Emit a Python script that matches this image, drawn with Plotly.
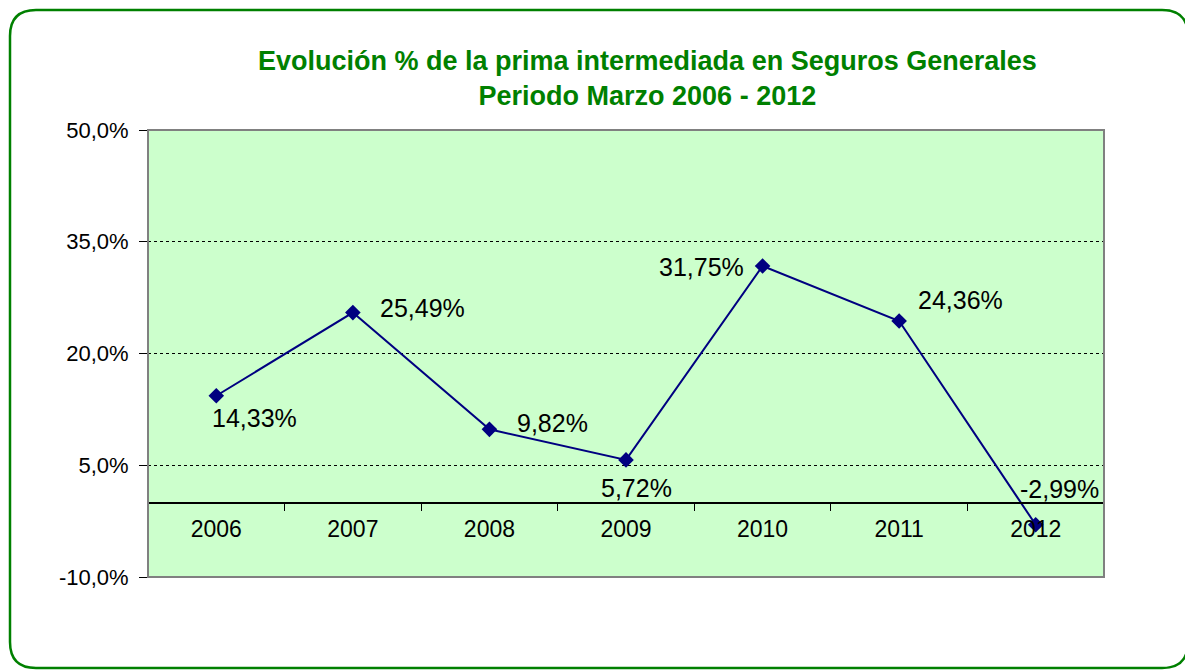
import plotly.graph_objects as go

years = ["2006", "2007", "2008", "2009", "2010", "2011", "2012"]
values = [14.33, 25.49, 9.82, 5.72, 31.75, 24.36, -2.99]
labels = ["14,33%", "25,49%", "9,82%", "5,72%", "31,75%", "24,36%", "-2,99%"]
ytick_vals = [-10, 5, 20, 35, 50]
ytick_text = ["-10,0%", "5,0%", "20,0%", "35,0%", "50,0%"]

# page body has an 8px margin, so figure coords = screen coords - 8
OFF = 8
W, H = 1193, 670
ML, MT = 148 - OFF, 130 - OFF
MR = W - (1104 - OFF)
MB = H - (577 - OFF)
PW, PH = W - ML - MR, H - MT - MB

def px(x):
    return (x - OFF - ML) / PW

def py(y):
    return (H - MB - (y - OFF)) / PH

fig = go.Figure()
fig.add_trace(go.Scatter(
    x=years, y=values, mode="lines+markers",
    line=dict(color="#000080", width=2),
    marker=dict(symbol="diamond", size=12, color="#000080"),
    hoverinfo="skip", showlegend=False,
))

# label placements (offsets in pixels relative to the point)
label_pos = [
    dict(xanchor="left", yanchor="middle", xshift=-6, yshift=-22),
    dict(xanchor="left", yanchor="middle", xshift=25, yshift=5),
    dict(xanchor="left", yanchor="middle", xshift=26, yshift=6),
    dict(xanchor="center", yanchor="middle", xshift=10, yshift=-28),
    dict(xanchor="right", yanchor="middle", xshift=-17, yshift=-1),
    dict(xanchor="left", yanchor="middle", xshift=17, yshift=21),
    dict(xanchor="left", yanchor="middle", xshift=-18, yshift=36),
]
annotations = []
for i, (v, t, p) in enumerate(zip(values, labels, label_pos)):
    annotations.append(dict(x=i, y=v, xref="x", yref="y", text=t, showarrow=False,
                            font=dict(family="Liberation Sans, Arial", size=25, color="#000000"), **p))

annotations.append(dict(
    x=px(647), y=1, xref="paper", yref="paper", yshift=(130 - 78), yanchor="middle",
    xanchor="center",
    text="<b>Evolución % de la prima intermediada en Seguros Generales<br>Periodo Marzo 2006 - 2012</b>",
    showarrow=False, font=dict(family="Liberation Sans, Arial", size=27, color="#008000"),
    align="center",
))

# outer rounded border
x0, y0, x1, y1, r = 10, 10, 1188, 668, 26
rx, ry = r / PW, r / PH
X0, X1, Y0, Y1 = px(x0), px(x1), py(y0), py(y1)
path = (f"M {X0+rx},{Y0} L {X1-rx},{Y0} Q {X1},{Y0} {X1},{Y0-ry} "
        f"L {X1},{Y1+ry} Q {X1},{Y1} {X1-rx},{Y1} L {X0+rx},{Y1} Q {X0},{Y1} {X0},{Y1+ry} "
        f"L {X0},{Y0-ry} Q {X0},{Y0} {X0+rx},{Y0} Z")
sx = 2 / PW
shadow = (f"M {X1+sx},{Y0-ry} L {X1+sx},{Y1+ry}")
shapes = [
    dict(type="path", path=shadow, xref="paper", yref="paper",
         line=dict(color="#1a1a1a", width=2), layer="below"),
    dict(type="path", path=path, xref="paper", yref="paper",
         line=dict(color="#008000", width=2.5), layer="below"),
    dict(type="rect", x0=0, x1=1, y0=0, y1=1, xref="x domain", yref="y domain",
         line=dict(color="#808080", width=2), layer="above"),
]

fig.update_layout(
    width=W, height=H,
    margin=dict(l=ML, r=MR, t=MT, b=MB),
    paper_bgcolor="#FFFFFF", plot_bgcolor="#CCFFCC",
    annotations=annotations, shapes=shapes,
    xaxis=dict(
        type="category", categoryorder="array", categoryarray=years,
        anchor="free", position=(0 - (-10)) / 60,
        showline=True, linecolor="#000000", linewidth=2,
        ticks="outside", tickson="boundaries", ticklen=7, tickcolor="#000000", tickwidth=1,
        showgrid=False, zeroline=False, ticklabelstandoff=6,
        tickfont=dict(family="Liberation Sans, Arial", size=23, color="#000000"),
        range=[-0.5, len(years) - 0.5], fixedrange=True,
    ),
    yaxis=dict(
        range=[-10, 50], tickvals=ytick_vals, ticktext=ytick_text,
        showgrid=True, gridcolor="#000000", griddash="dot", gridwidth=1,
        zeroline=False, showline=False,
        ticks="outside", ticklen=8, tickcolor="#000000", tickwidth=1,
        ticklabelstandoff=6,
        tickfont=dict(family="Liberation Sans, Arial", size=22, color="#000000"),
        fixedrange=True,
    ),
    font=dict(family="Liberation Sans, Arial"),
)

fig.write_html("out.html")
